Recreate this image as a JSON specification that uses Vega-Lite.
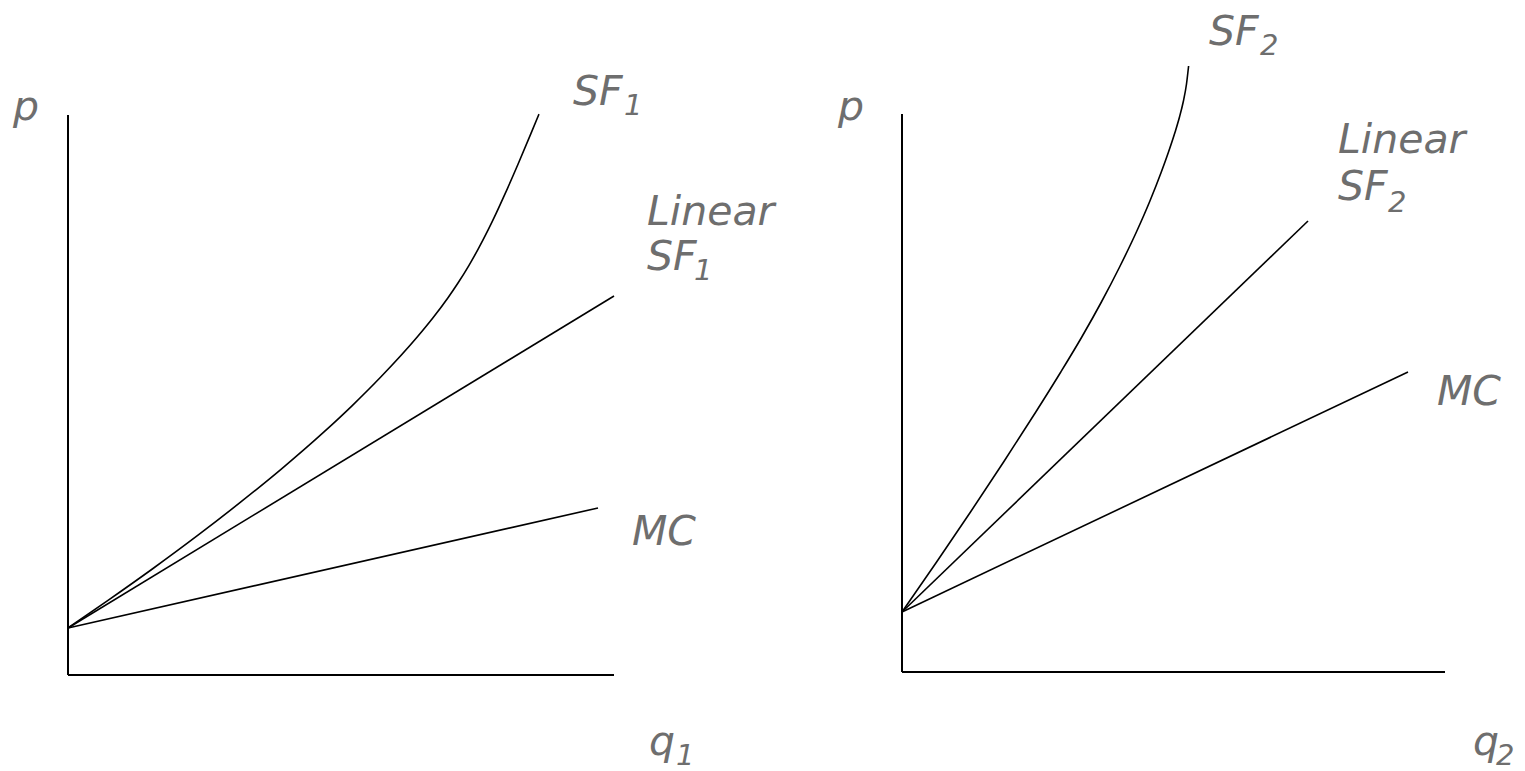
{
  "$schema": "https://vega.github.io/schema/vega-lite/v6.json",
  "autosize": {"type": "pad"},
  "padding": 0,
  "spacing": 0,
  "bounds": "flush",
  "background": "white",
  "config": {"view": {"stroke": null}},
  "datasets": {
    "axes": [
      {"panel": 1, "q": 0, "p": 0, "q2": 0, "p2": 56.0},
      {"panel": 1, "q": 0, "p": 0, "q2": 54.6, "p2": 0},
      {"panel": 2, "q": 0, "p": 0, "q2": 0, "p2": 55.8},
      {"panel": 2, "q": 0, "p": 0, "q2": 54.3, "p2": 0}
    ],
    "curves": [
      {"panel": 1, "series": "MC", "q": 0, "p": 4.7},
      {"panel": 1, "series": "MC", "q": 53.0, "p": 16.7},
      {"panel": 1, "series": "Linear SF1", "q": 0, "p": 4.7},
      {"panel": 1, "series": "Linear SF1", "q": 54.6, "p": 37.9},
      {"panel": 1, "series": "SF1", "q": 0, "p": 4.7},
      {"panel": 1, "series": "SF1", "q": 4.0, "p": 7.46},
      {"panel": 1, "series": "SF1", "q": 8.5, "p": 10.65},
      {"panel": 1, "series": "SF1", "q": 13.0, "p": 13.98},
      {"panel": 1, "series": "SF1", "q": 17.1, "p": 17.16},
      {"panel": 1, "series": "SF1", "q": 21.3, "p": 20.57},
      {"panel": 1, "series": "SF1", "q": 25.6, "p": 24.31},
      {"panel": 1, "series": "SF1", "q": 28.4, "p": 26.92},
      {"panel": 1, "series": "SF1", "q": 31.3, "p": 29.82},
      {"panel": 1, "series": "SF1", "q": 34.9, "p": 33.77},
      {"panel": 1, "series": "SF1", "q": 36.5, "p": 35.72},
      {"panel": 1, "series": "SF1", "q": 38.0, "p": 37.73},
      {"panel": 1, "series": "SF1", "q": 39.0, "p": 39.2},
      {"panel": 1, "series": "SF1", "q": 40.1, "p": 40.97},
      {"panel": 1, "series": "SF1", "q": 41.0, "p": 42.56},
      {"panel": 1, "series": "SF1", "q": 42.0, "p": 44.48},
      {"panel": 1, "series": "SF1", "q": 42.8, "p": 46.13},
      {"panel": 1, "series": "SF1", "q": 43.6, "p": 47.88},
      {"panel": 1, "series": "SF1", "q": 45.0, "p": 51.08},
      {"panel": 1, "series": "SF1", "q": 46.3, "p": 54.16},
      {"panel": 1, "series": "SF1", "q": 47.1, "p": 56.09},
      {"panel": 2, "series": "MC", "q": 0, "p": 6.0},
      {"panel": 2, "series": "MC", "q": 50.6, "p": 30.0},
      {"panel": 2, "series": "Linear SF2", "q": 0, "p": 6.0},
      {"panel": 2, "series": "Linear SF2", "q": 40.6, "p": 45.1},
      {"panel": 2, "series": "SF2", "q": 0, "p": 6.0},
      {"panel": 2, "series": "SF2", "q": 3.46, "p": 11.0},
      {"panel": 2, "series": "SF2", "q": 6.85, "p": 16.0},
      {"panel": 2, "series": "SF2", "q": 10.16, "p": 21.0},
      {"panel": 2, "series": "SF2", "q": 13.38, "p": 26.0},
      {"panel": 2, "series": "SF2", "q": 15.88, "p": 30.0},
      {"panel": 2, "series": "SF2", "q": 17.98, "p": 33.5},
      {"panel": 2, "series": "SF2", "q": 19.94, "p": 37.0},
      {"panel": 2, "series": "SF2", "q": 21.76, "p": 40.5},
      {"panel": 2, "series": "SF2", "q": 23.44, "p": 44.0},
      {"panel": 2, "series": "SF2", "q": 24.75, "p": 47.0},
      {"panel": 2, "series": "SF2", "q": 25.93, "p": 50.0},
      {"panel": 2, "series": "SF2", "q": 26.65, "p": 52.0},
      {"panel": 2, "series": "SF2", "q": 27.31, "p": 54.0},
      {"panel": 2, "series": "SF2", "q": 27.75, "p": 55.5},
      {"panel": 2, "series": "SF2", "q": 28.12, "p": 57.0},
      {"panel": 2, "series": "SF2", "q": 28.45, "p": 58.8},
      {"panel": 2, "series": "SF2", "q": 28.66, "p": 60.6}
    ],
    "labels": [
      {"panel": 1, "role": "main", "text": "p", "q": -5.5, "p": 55.5},
      {"panel": 1, "role": "main", "text": "SF", "q": 50.5, "p": 57.0},
      {"panel": 1, "role": "sub", "text": "1", "q": 55.6, "p": 56.0},
      {"panel": 1, "role": "main", "text": "Linear", "q": 57.9, "p": 45.0},
      {"panel": 1, "role": "main", "text": "SF", "q": 57.9, "p": 40.5},
      {"panel": 1, "role": "sub", "text": "1", "q": 62.6, "p": 39.5},
      {"panel": 1, "role": "main", "text": "MC", "q": 56.4, "p": 13.0},
      {"panel": 1, "role": "main", "text": "q", "q": 58.1, "p": -8.0},
      {"panel": 1, "role": "sub", "text": "1", "q": 60.8, "p": -9.0},
      {"panel": 2, "role": "main", "text": "p", "q": -6.4, "p": 55.2},
      {"panel": 2, "role": "main", "text": "SF", "q": 30.7, "p": 62.7},
      {"panel": 2, "role": "sub", "text": "2", "q": 35.8, "p": 61.7},
      {"panel": 2, "role": "main", "text": "Linear", "q": 43.6, "p": 51.9},
      {"panel": 2, "role": "main", "text": "SF", "q": 43.6, "p": 47.2},
      {"panel": 2, "role": "sub", "text": "2", "q": 48.6, "p": 46.0},
      {"panel": 2, "role": "main", "text": "MC", "q": 53.5, "p": 26.7},
      {"panel": 2, "role": "main", "text": "q", "q": 57.1, "p": -8.3},
      {"panel": 2, "role": "sub", "text": "2", "q": 59.4, "p": -9.3}
    ]
  },
  "hconcat": [
    {
      "width": 762,
      "height": 771,
      "encoding": {
        "x": {"field": "q", "type": "quantitative", "scale": {"domain": [-6.8, 69.4], "nice": false, "zero": false}, "axis": null},
        "y": {"field": "p", "type": "quantitative", "scale": {"domain": [-9.6, 67.5], "nice": false, "zero": false}, "axis": null}
      },
      "layer": [
        {
          "data": {"name": "axes"},
          "transform": [{"filter": "datum.panel == 1"}],
          "mark": {"type": "rule", "color": "black", "strokeWidth": 2},
          "encoding": {"x2": {"field": "q2"}, "y2": {"field": "p2"}}
        },
        {
          "data": {"name": "curves"},
          "transform": [{"filter": "datum.panel == 1"}],
          "mark": {"type": "line", "color": "black", "strokeWidth": 1.6, "interpolate": "monotone"},
          "encoding": {"detail": {"field": "series", "type": "nominal"}}
        },
        {
          "data": {"name": "labels"},
          "transform": [{"filter": "datum.panel == 1 && datum.role == 'main'"}],
          "mark": {"type": "text", "align": "left", "baseline": "alphabetic", "font": "DejaVu Sans", "fontStyle": "italic", "fontSize": 41, "color": "#6e6e6e"},
          "encoding": {"text": {"field": "text", "type": "nominal"}}
        },
        {
          "data": {"name": "labels"},
          "transform": [{"filter": "datum.panel == 1 && datum.role == 'sub'"}],
          "mark": {"type": "text", "align": "left", "baseline": "alphabetic", "font": "DejaVu Sans", "fontStyle": "italic", "fontSize": 29, "color": "#6e6e6e"},
          "encoding": {"text": {"field": "text", "type": "nominal"}}
        }
      ]
    },
    {
      "width": 763,
      "height": 771,
      "encoding": {
        "x": {"field": "q", "type": "quantitative", "scale": {"domain": [-14.0, 62.3], "nice": false, "zero": false}, "axis": null},
        "y": {"field": "p", "type": "quantitative", "scale": {"domain": [-9.9, 67.2], "nice": false, "zero": false}, "axis": null}
      },
      "layer": [
        {
          "data": {"name": "axes"},
          "transform": [{"filter": "datum.panel == 2"}],
          "mark": {"type": "rule", "color": "black", "strokeWidth": 2},
          "encoding": {"x2": {"field": "q2"}, "y2": {"field": "p2"}}
        },
        {
          "data": {"name": "curves"},
          "transform": [{"filter": "datum.panel == 2"}],
          "mark": {"type": "line", "color": "black", "strokeWidth": 1.6, "interpolate": "monotone"},
          "encoding": {"detail": {"field": "series", "type": "nominal"}}
        },
        {
          "data": {"name": "labels"},
          "transform": [{"filter": "datum.panel == 2 && datum.role == 'main'"}],
          "mark": {"type": "text", "align": "left", "baseline": "alphabetic", "font": "DejaVu Sans", "fontStyle": "italic", "fontSize": 41, "color": "#6e6e6e"},
          "encoding": {"text": {"field": "text", "type": "nominal"}}
        },
        {
          "data": {"name": "labels"},
          "transform": [{"filter": "datum.panel == 2 && datum.role == 'sub'"}],
          "mark": {"type": "text", "align": "left", "baseline": "alphabetic", "font": "DejaVu Sans", "fontStyle": "italic", "fontSize": 29, "color": "#6e6e6e"},
          "encoding": {"text": {"field": "text", "type": "nominal"}}
        }
      ]
    }
  ]
}
